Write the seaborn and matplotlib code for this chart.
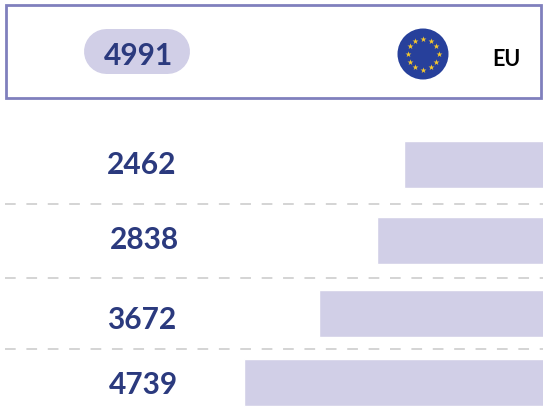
import numpy as np
import pandas as pd
import seaborn as sns
import matplotlib.pyplot as plt
from matplotlib.patches import Rectangle, Circle

# data
total_label = 'EU'
total_value = 4991
values = [2462, 2838, 3672, 4739]

# layout, in pixels of the 543x409 picture
W, H = 543, 409
row_y = [164.5, 240.5, 313.5, 382.5]
text_y = [165, 240, 320, 385]
text_x = [142, 144, 142, 143]
rules_y = [204, 278, 349]

NAVY = '#2b3a7e'
LILAC = '#d1cfe7'
FRAME = '#8080bd'

sns.set_style('white')
plt.rcParams['font.family'] = ['Lato', 'DejaVu Sans']

fig = plt.figure(figsize=(W / 100, H / 100), dpi=100)
ax = fig.add_axes([0, 0, 1, 1])

# bars grow leftwards from the right edge
df = pd.DataFrame({'value': values, 'row': row_y})
sns.barplot(data=df, x='value', y='row', orient='y', native_scale=True,
            color=LILAC, saturation=1, width=46.5 / 69, ax=ax)
ax.set_xlim(8201, 484)
ax.set_ylim(H, 0)
ax.axis('off')

# overlay in pixel coordinates
top = fig.add_axes([0, 0, 1, 1])
top.set_xlim(0, W)
top.set_ylim(H, 0)
top.axis('off')
top.patch.set_alpha(0)

for y in rules_y:
    top.plot([5, W], [y, y], color='#c9c9c9', lw=1.1, dashes=(7, 7))

for x, y, v in zip(text_x, text_y, values):
    top.text(x, y, str(v), color=NAVY, fontsize=21.5, fontweight='bold',
             ha='center', va='center')

# header box
top.add_patch(Rectangle((6, 5), 535, 93, fill=False, ec=FRAME, lw=2))
top.plot([105.5, 166.5], [51, 51], color=LILAC, lw=45 * 0.72, solid_capstyle='round')
top.text(139, 56, str(total_value), color=NAVY, fontsize=21.5, fontweight='bold',
         ha='center', va='center')

# EU flag
top.add_patch(Circle((423, 54), 25.5, fc='#27409b', ec='none'))
ang = np.deg2rad(np.arange(0, 360, 30))
top.scatter(423 + 15.5 * np.cos(ang), 54 + 15.5 * np.sin(ang), marker='*', s=20,
            color='#f7c92c', linewidths=0, zorder=3)
top.text(506, 60, total_label, color='black', fontsize=15.5, fontweight='bold',
         ha='center', va='center')

fig.savefig('out.png', dpi=100)
